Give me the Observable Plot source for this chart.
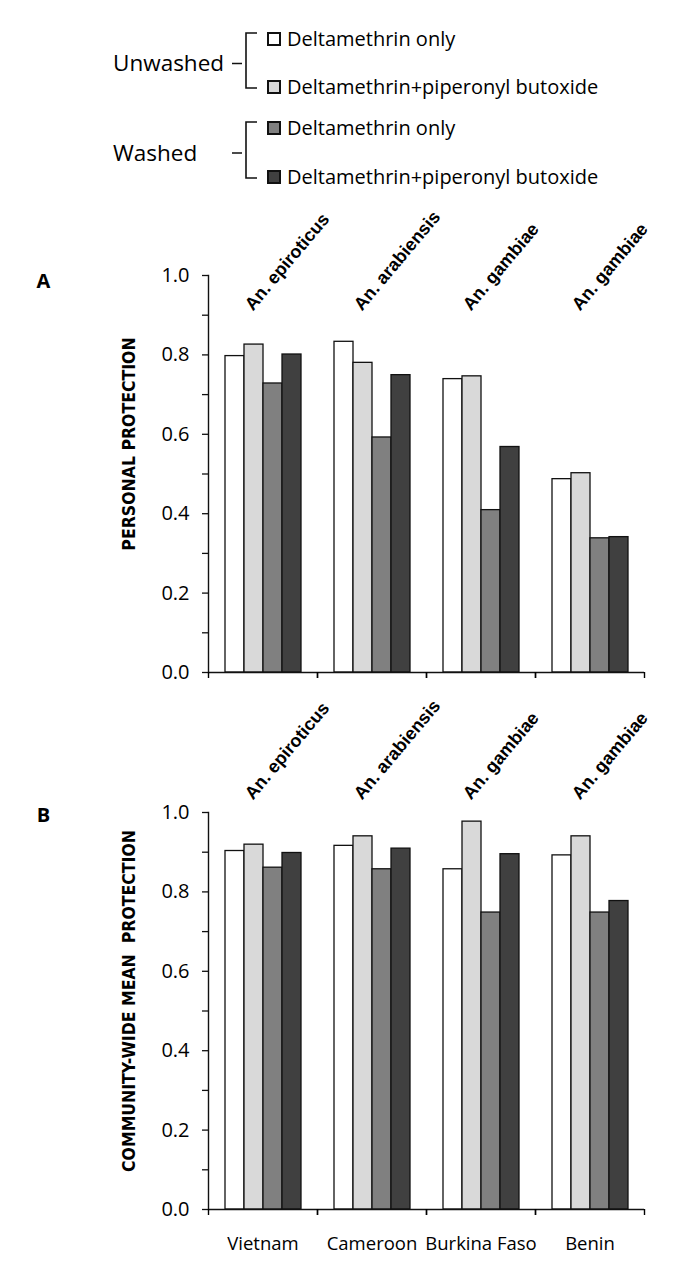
<!DOCTYPE html>
<html><head><meta charset="utf-8">
<script src="https://cdn.jsdelivr.net/npm/d3@7"></script>
<script src="https://cdn.jsdelivr.net/npm/@observablehq/plot@0.6"></script>
<style>
body{margin:0;background:#fff;width:685px;overflow:hidden;}
svg{display:block;overflow:visible;}
</style></head><body>
<svg id="legend" width="685" height="200"></svg>
<div id="panelA"></div>
<div id="panelB"></div>
<script>
// ---- data ----
const countries = ["Vietnam", "Cameroon", "Burkina Faso", "Benin"];
const species = ["An. epiroticus", "An. arabiensis", "An. gambiae", "An. gambiae"];
const washGroups = ["Unwashed", "Washed"];
const treatments = ["Deltamethrin only", "Deltamethrin+piperonyl butoxide"];
const seriesKeys = ["Unwashed – Deltamethrin only", "Unwashed – Deltamethrin+piperonyl butoxide",
                    "Washed – Deltamethrin only", "Washed – Deltamethrin+piperonyl butoxide"];
const seriesColors = ["#ffffff", "#d9d9d9", "#808080", "#404040"];

// Panel A: personal protection (per series, across countries)
const personalUnwashedD   = [0.797, 0.833, 0.739, 0.487];
const personalUnwashedDP  = [0.826, 0.780, 0.746, 0.502];
const personalWashedD     = [0.728, 0.592, 0.409, 0.338];
const personalWashedDP    = [0.801, 0.749, 0.568, 0.341];
// Panel B: community-wide mean protection
const communityUnwashedD  = [0.903, 0.916, 0.857, 0.892];
const communityUnwashedDP = [0.919, 0.940, 0.977, 0.940];
const communityWashedD    = [0.861, 0.857, 0.748, 0.748];
const communityWashedDP   = [0.898, 0.909, 0.895, 0.777];

const yTicks = [0, 0.1, 0.2, 0.3, 0.4, 0.5, 0.6, 0.7, 0.8, 0.9, 1.0];
const yTickLabels = ["0.0", "", "0.2", "", "0.4", "", "0.6", "", "0.8", "", "1.0"];

// ---- legend ----
(function legend() {
  const svg = d3.select("#legend");
  const rowY = [39, 87, 128, 177];
  washGroups.forEach((g, gi) => {
    const y1 = rowY[gi * 2], y2 = rowY[gi * 2 + 1];
    const mid = (y1 + y2) / 2 + 0.5;
    svg.append("text").attr("x", 113).attr("y", mid).attr("dy", "0.35em")
      .attr("font-family", "Open Sans").attr("font-size", 22.5).attr("fill", "#000").text(g);
    svg.append("path")
      .attr("d", `M232,${mid}H242M257,${y1 - 6}H246V${y2 + 1}H257`)
      .attr("fill", "none").attr("stroke", "#111").attr("stroke-width", 1.6);
    treatments.forEach((t, ti) => {
      const k = gi * 2 + ti, y = rowY[k];
      svg.append("rect").attr("x", 268).attr("y", y - 6).attr("width", 12).attr("height", 12)
        .attr("fill", seriesColors[k]).attr("stroke", "#111").attr("stroke-width", 2);
      svg.append("text").attr("x", 287).attr("y", y).attr("dy", "0.35em")
        .attr("font-family", "Open Sans").attr("font-size", 20).attr("fill", "#000").text(t);
    });
  });
})();

// ---- panels ----
const W = 685, ML = 208, MR = 41;
const bw = (W - ML - MR) / countries.length;

function panel(values, opt) {
  const data = [];
  countries.forEach((c, i) => seriesKeys.forEach((s, j) => data.push({country: c, series: s, value: values[j][i]})));
  const labels = countries.map((c, i) => ({country: c, species: species[i]}));
  return Plot.plot({
    width: W, height: opt.height,
    marginLeft: ML, marginRight: MR, marginTop: opt.mt, marginBottom: opt.mb,
    style: {fontFamily: "Open Sans", fontSize: "20px", color: "#000", background: "white", overflow: "visible"},
    fx: {domain: countries, padding: 0, label: null},
    x: {domain: seriesKeys, paddingInner: 0, paddingOuter: 0.74, axis: null},
    y: {domain: [0, 1], label: null},
    color: {domain: seriesKeys, range: seriesColors},
    marks: [
      Plot.barY(data, {fx: "country", x: "series", y: "value", fill: "series", stroke: "#111", strokeWidth: 1.3}),
      Plot.ruleY([0], {stroke: "#111", strokeWidth: 1.4}),
      Plot.frame({anchor: "left", facetAnchor: "left", stroke: "#111", strokeWidth: 1.4}),
      Plot.axisY({ticks: yTicks, tickFormat: (d, i) => yTickLabels[i], tickSize: 6, tickPadding: 13,
                  label: null, stroke: "#111", strokeWidth: 1.3}),
      Plot.axisFx({anchor: "bottom", tickSize: 6, tickFormat: () => "", dx: -bw / 2, label: null, strokeWidth: 1.4}),
      Plot.axisFx({anchor: "bottom", tickSize: 6, tickFormat: () => "", dx: bw / 2, label: null, strokeWidth: 1.4}),
      opt.countryLabels ? Plot.axisFx({anchor: "bottom", tickSize: 0, tickPadding: 27, fontSize: 18.5, label: null}) : null,
      Plot.text(labels, {fx: "country", text: "species", frameAnchor: "top", rotate: -50,
                         textAnchor: "start", lineAnchor: "bottom", dx: -10, dy: opt.labelDy,
                         fontFamily: "Liberation Sans", fontWeight: "bold", fontSize: 18, fill: "#000"}),
      Plot.text([{country: countries[0], t: opt.title}], {fx: "country", text: "t", frameAnchor: "left",
                         rotate: -90, dx: -79, dy: opt.titleDy, textAnchor: "middle", lineAnchor: "middle",
                         fontFamily: "Liberation Sans Narrow, DejaVu Sans Condensed, Open Sans",
                         fontWeight: "bold", fontSize: 17.5, fill: "#000"}),
      Plot.text([{country: countries[0], t: opt.letter}], {fx: "country", text: "t", frameAnchor: "top-left",
                         dx: -165, dy: opt.letterDy, textAnchor: "middle", lineAnchor: "middle",
                         fontWeight: "bold", fontSize: 20, fill: "#000"})
    ]
  });
}

document.getElementById("panelA").append(panel(
  [personalUnwashedD, personalUnwashedDP, personalWashedD, personalWashedDP],
  {height: 495, mt: 75, mb: 23, labelDy: 36, title: "PERSONAL PROTECTION", titleDy: -30, letter: "A", letterDy: 6, countryLabels: false}
));
document.getElementById("panelB").append(panel(
  [communityUnwashedD, communityUnwashedDP, communityWashedD, communityWashedDP],
  {height: 578, mt: 117, mb: 64, labelDy: -12, title: "COMMUNITY-WIDE MEAN  PROTECTION", titleDy: -10, letter: "B", letterDy: 3, countryLabels: true}
));
</script>
</body></html>
